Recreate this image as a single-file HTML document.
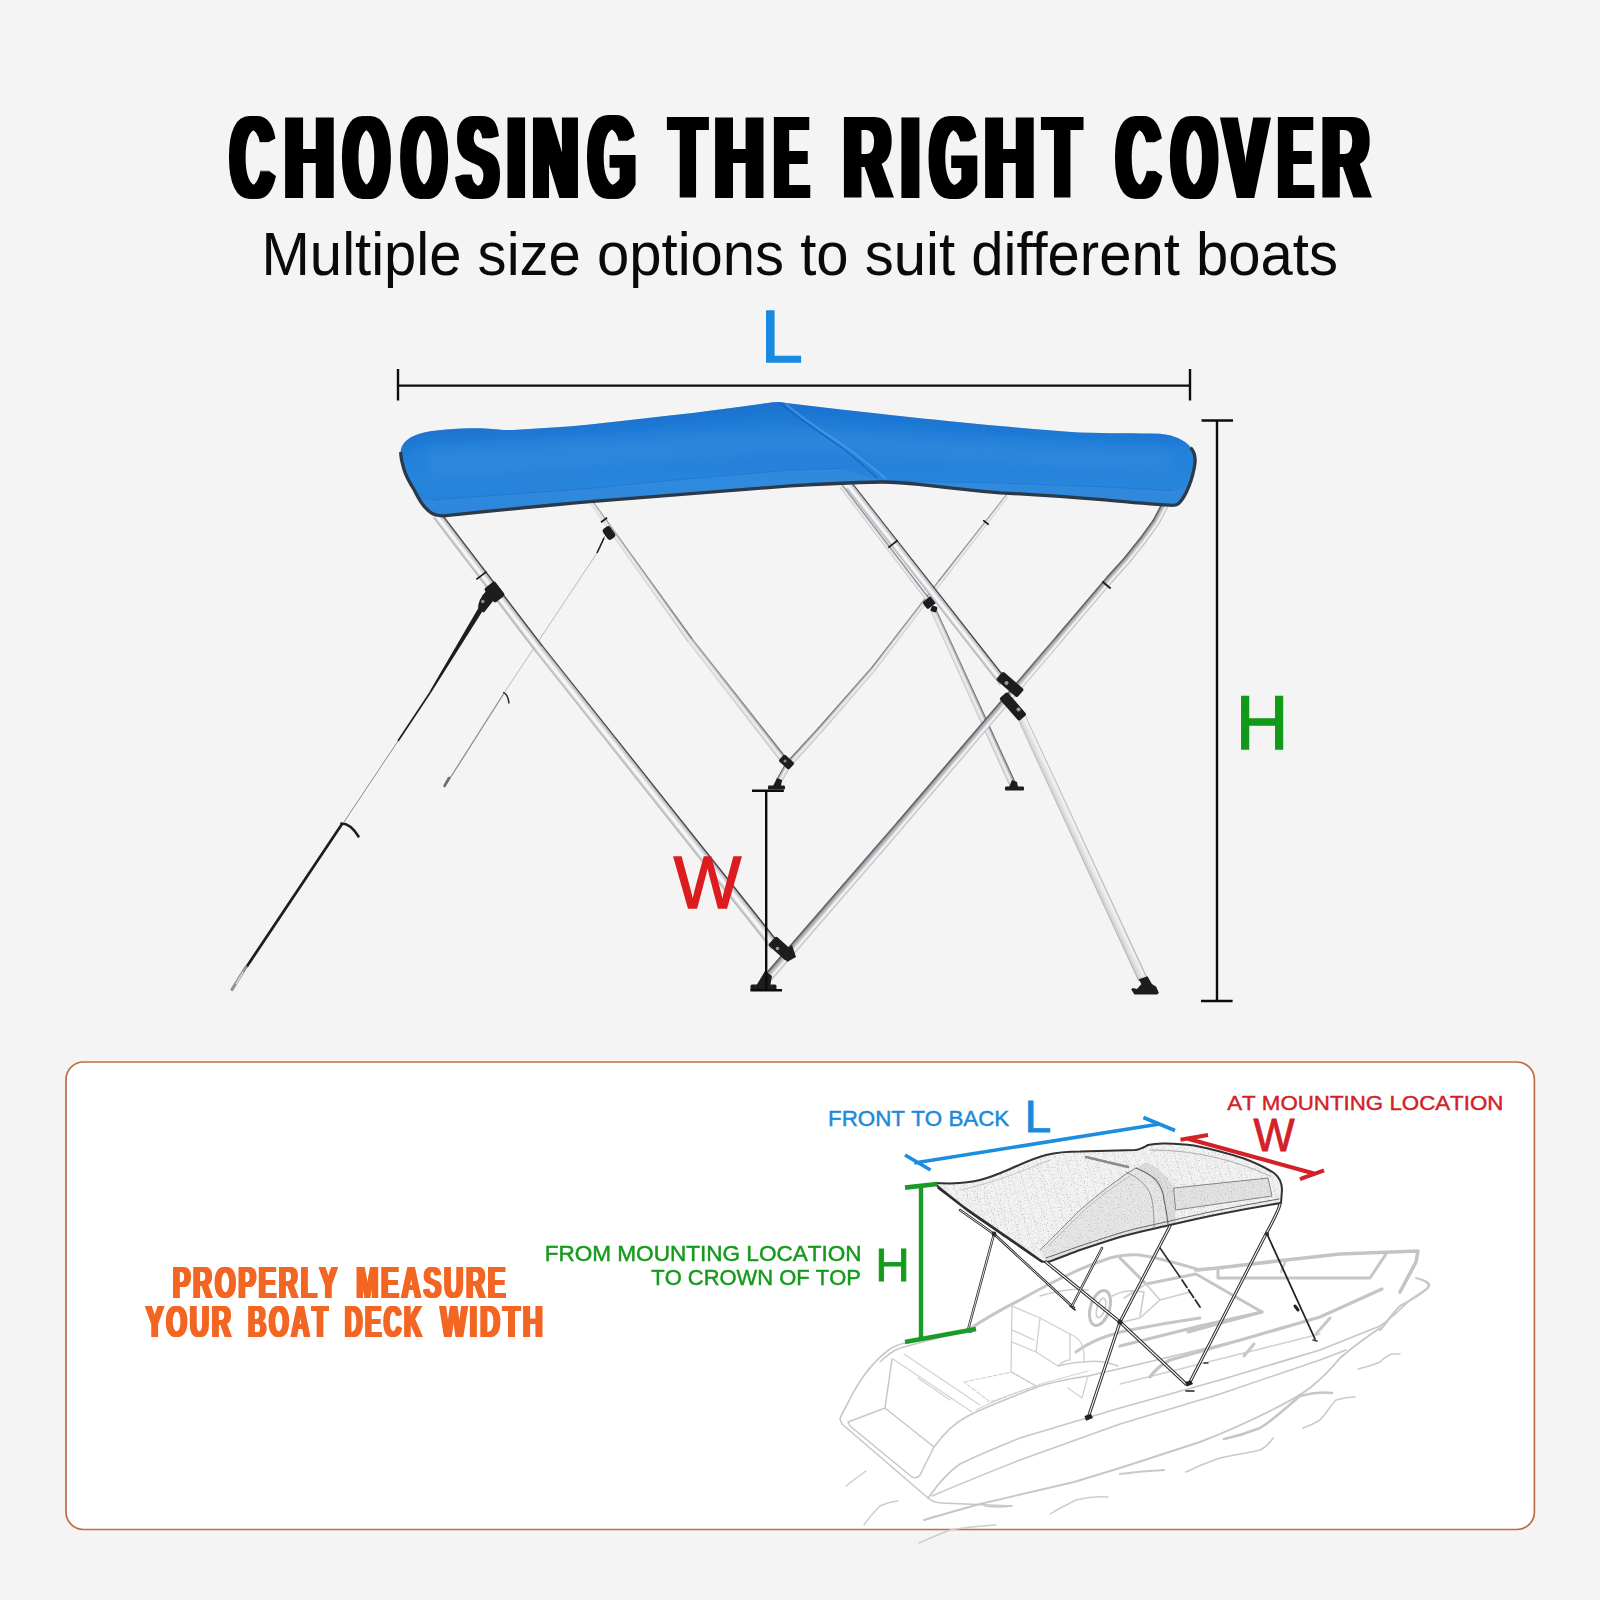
<!DOCTYPE html>
<html>
<head>
<meta charset="utf-8">
<title>Choosing the right cover</title>
<style>
html,body{margin:0;padding:0;background:#f4f4f4;}
body{width:1600px;height:1600px;overflow:hidden;font-family:"Liberation Sans",sans-serif;}
svg{display:block;position:absolute;left:0;top:0;}
text{font-family:"Liberation Sans",sans-serif;}
.b{font-weight:bold;}
.nk{font-kerning:none;}
</style>
</head>
<body>
<svg width="1600" height="1600" viewBox="0 0 1600 1600">
<defs>
<filter id="dil4" filterUnits="userSpaceOnUse" x="200" y="90" width="1200" height="130"><feMorphology operator="dilate" radius="4 0"/></filter>
<!--FRAMEDEFS--><linearGradient id="tube" x1="0" y1="0" x2="0" y2="1">
<stop offset="0" stop-color="#333436"/><stop offset="0.11" stop-color="#4f5154"/><stop offset="0.17" stop-color="#b4b7ba"/><stop offset="0.42" stop-color="#e6e7e9"/><stop offset="0.62" stop-color="#fefefe"/><stop offset="0.8" stop-color="#d2d4d7"/><stop offset="1" stop-color="#a3a6aa"/>
</linearGradient>
<linearGradient id="tubeB" x1="0" y1="0" x2="0" y2="1">
<stop offset="0" stop-color="#3a3b3d"/><stop offset="0.16" stop-color="#77797c"/><stop offset="0.3" stop-color="#a9acaf"/><stop offset="0.52" stop-color="#c9cbce"/><stop offset="0.7" stop-color="#fbfbfb"/><stop offset="0.86" stop-color="#d9dadc"/><stop offset="1" stop-color="#a8abae"/>
</linearGradient>
<linearGradient id="tubeL" x1="0" y1="0" x2="0" y2="1">
<stop offset="0" stop-color="#9da0a4"/><stop offset="0.2" stop-color="#f4f4f5"/><stop offset="0.55" stop-color="#e2e3e5"/><stop offset="0.85" stop-color="#cfd1d4"/><stop offset="1" stop-color="#a0a3a7"/>
</linearGradient>
<linearGradient id="tubeF" x1="0" y1="0" x2="0" y2="1">
<stop offset="0" stop-color="#4a4b4d"/><stop offset="0.22" stop-color="#a9acaf"/><stop offset="0.5" stop-color="#f0f0f1"/><stop offset="0.8" stop-color="#dcdddf"/><stop offset="1" stop-color="#b3b6b9"/>
</linearGradient>
<filter id="blur5" filterUnits="userSpaceOnUse" x="380" y="380" width="840" height="160"><feGaussianBlur stdDeviation="5"/></filter>
<linearGradient id="canG" gradientUnits="userSpaceOnUse" x1="0" y1="400" x2="0" y2="520">
<stop offset="0" stop-color="#1b77d3"/><stop offset="0.3" stop-color="#217ed8"/><stop offset="0.7" stop-color="#2885dc"/><stop offset="1" stop-color="#227dd7"/>
</linearGradient><!--/FRAMEDEFS-->
<filter id="dil1" filterUnits="userSpaceOnUse" x="100" y="1240" width="500" height="120"><feMorphology operator="dilate" radius="1 0"/></filter>
<filter id="pnoise" filterUnits="userSpaceOnUse" x="925" y="1135" width="365" height="135"><feTurbulence type="fractalNoise" baseFrequency="0.7" numOctaves="2" seed="7"/><feColorMatrix values="0 0 0 0 0.4  0 0 0 0 0.4  0 0 0 0 0.4  0 0 0 -2.0 0.92"/></filter>
<!--DEFS-->
</defs>
<rect x="0" y="0" width="1600" height="1600" fill="#f4f4f4"/>

<!-- ============ TITLE ============ -->
<g id="title" fill="#000" filter="url(#dil4)">
<text transform="translate(230.55 198.0) scale(0.5965 1.1773)" font-size="100" class="b">C</text>
<text transform="translate(284.38 198.0) scale(0.6906 1.1773)" font-size="100" class="b">H</text>
<text transform="translate(343.58 198.0) scale(0.5901 1.1773)" font-size="100" class="b">O</text>
<text transform="translate(401.64 198.0) scale(0.5757 1.1773)" font-size="100" class="b">O</text>
<text transform="translate(457.22 198.0) scale(0.6176 1.1773)" font-size="100" class="b">S</text>
<text transform="translate(506.94 198.0) scale(0.6665 1.1773)" font-size="100" class="b">I</text>
<text transform="translate(532.79 198.0) scale(0.6294 1.1773)" font-size="100" class="b">N</text>
<text transform="translate(588.53 198.0) scale(0.6017 1.1773)" font-size="100" class="b">G</text>
<text transform="translate(670.35 198.0) scale(0.5774 1.1773)" font-size="100" class="b">T</text>
<text transform="translate(714.40 198.0) scale(0.6872 1.1773)" font-size="100" class="b">H</text>
<text transform="translate(774.61 198.0) scale(0.5062 1.1773)" font-size="100" class="b">E</text>
<text transform="translate(843.57 198.0) scale(0.6617 1.1773)" font-size="100" class="b">R</text>
<text transform="translate(900.76 198.0) scale(0.6942 1.1773)" font-size="100" class="b">I</text>
<text transform="translate(930.12 198.0) scale(0.6046 1.1773)" font-size="100" class="b">G</text>
<text transform="translate(984.38 198.0) scale(0.6906 1.1773)" font-size="100" class="b">H</text>
<text transform="translate(1044.34 198.0) scale(0.5876 1.1773)" font-size="100" class="b">T</text>
<text transform="translate(1116.53 198.0) scale(0.6026 1.1773)" font-size="100" class="b">C</text>
<text transform="translate(1171.60 198.0) scale(0.5843 1.1773)" font-size="100" class="b">O</text>
<text transform="translate(1223.55 198.0) scale(0.6582 1.1773)" font-size="100" class="b">V</text>
<text transform="translate(1278.61 198.0) scale(0.5062 1.1773)" font-size="100" class="b">E</text>
<text transform="translate(1322.02 198.0) scale(0.6554 1.1773)" font-size="100" class="b">R</text>
</g>

<!-- subtitle -->
<text transform="translate(261.5 274.8) scale(1 1.045)" font-size="58.05" fill="#0a0a0a">Multiple size options to suit different boats</text>

<!-- ============ CANOPY + FRAME ============ -->
<!--FRAME_S-->
<g id="frame">
<polygon points="0,-2.10 169.04,-2.94 169.04,2.94 0,2.10" fill="url(#tubeF)" transform="translate(592.0 503.0) rotate(54.42)"/>
<polygon points="0,-2.94 151.63,-3.70 151.63,3.70 0,2.94" fill="url(#tubeF)" transform="translate(690.0 640.0) rotate(51.99)"/>
<polygon points="0,-2.17 109.62,-1.70 109.62,1.70 0,2.17" fill="url(#tubeF)" transform="translate(940.0 582.0) rotate(-52.08)"/>
<polygon points="0,-2.65 111.51,-2.17 111.51,2.17 0,2.65" fill="url(#tubeF)" transform="translate(872.5 670.0) rotate(-52.51)"/>
<polygon points="0,-3.00 80.33,-2.65 80.33,2.65 0,3.00" fill="url(#tubeF)" transform="translate(820.0 730.0) rotate(-48.81)"/>
<polygon points="0,-3.20 46.61,-3.00 46.61,3.00 0,3.20" fill="url(#tubeF)" transform="translate(789.0 764.0) rotate(-47.64)"/>
<polygon points="0,-2.00 145.41,-2.20 145.41,2.20 0,2.00" fill="url(#tubeF)" transform="translate(841.0 486.0) rotate(52.58)"/>
<polygon points="0,-3.10 193.93,-3.60 193.93,3.60 0,3.10" fill="url(#tubeF)" transform="translate(932.0 607.0) rotate(65.56)"/>
<polygon points="0,-3.10 18.96,-3.10 18.96,3.10 0,3.10" fill="url(#tubeF)" transform="translate(779.0 781.0) rotate(-60.64)"/>
<rect x="-7.0" y="-4.5" width="14" height="9" rx="2" fill="#1d1d1f" transform="translate(786.5 762.0) rotate(222.4)"/>
<circle cx="785" cy="761" r="1.5" fill="#8a8a8a"/>
<path d="M773 786L777 778L782 780L781 786Z" fill="#1d1d1f"/>
<rect x="768" y="785.5" width="17" height="4" rx="1" fill="#1d1d1f"/>
<path d="M1009 787L1012 780L1017 782L1018 787Z" fill="#1d1d1f"/>
<rect x="1005" y="786.5" width="19" height="4" rx="1" fill="#1d1d1f"/>
<rect x="-6.5" y="-4.5" width="13" height="9" rx="2" fill="#1d1d1f" transform="translate(930.0 602.0) rotate(142.6)"/>
<rect x="-3.0" y="-3.0" width="6" height="6" rx="1.5" fill="#1d1d1f" transform="translate(934.0 609.0) rotate(20.0)"/>
<rect x="-0.9" y="-3.8" width="1.8" height="7.5" fill="#1a1a1a" transform="translate(604 520) rotate(54.4)"/>
<rect x="-0.9" y="-3.5" width="1.8" height="7.0" fill="#1a1a1a" transform="translate(986 522.5) rotate(-52.1)"/>
<rect x="-6.5" y="-4.5" width="13" height="9" rx="3" fill="#1d1d1f" transform="translate(609.0 533.0) rotate(54.4)"/>
<path d="M606 534L598 552L603 539Z" fill="#1d1d1f"/>
<path d="M604 538L597 553" stroke="#1d1d1f" stroke-width="1.6" fill="none" />
<path d="M597 553L504 693" stroke="#b9b9b9" stroke-width="1.0" fill="none" />
<path d="M503 692.5q5 1 6 11" stroke="#2a2a2a" stroke-width="1.5" fill="none" />
<path d="M503.5 694L447 783" stroke="#8f8f8f" stroke-width="1.3" fill="none" />
<path d="M449 778l-4.5 8" stroke="#6d6d6d" stroke-width="2.6" fill="none" stroke-linecap="round"/>
<polygon points="0,-4.30 249.55,-4.60 249.55,4.60 0,4.30" fill="url(#tube)" transform="translate(849.5 486.0) rotate(51.93)"/>
<polygon points="0,-4.80 167.91,-4.95 167.91,4.95 0,4.80" fill="url(#tube)" transform="translate(437.0 515.0) rotate(52.65)"/>
<polygon points="0,-4.95 381.04,-5.30 381.04,5.30 0,4.95" fill="url(#tube)" transform="translate(538.5 648.0) rotate(51.56)"/>
<polygon points="0,-4.40 290.39,-4.80 290.39,4.80 0,4.40" fill="url(#tubeL)" transform="translate(1021.0 716.0) rotate(65.17)"/>
<polygon points="0,-3.83 22.07,-3.80 22.07,3.80 0,3.83" fill="url(#tubeB)" transform="translate(1156.0 522.0) rotate(-62.24)"/>
<polygon points="0,-3.86 22.80,-3.83 22.80,3.83 0,3.86" fill="url(#tubeB)" transform="translate(1143.0 540.0) rotate(-54.16)"/>
<polygon points="0,-3.90 26.21,-3.86 26.21,3.86 0,3.90" fill="url(#tubeB)" transform="translate(1127.0 560.0) rotate(-51.34)"/>
<polygon points="0,-3.94 27.51,-3.90 27.51,3.90 0,3.94" fill="url(#tubeB)" transform="translate(1109.0 580.0) rotate(-48.01)"/>
<polygon points="0,-4.05 79.35,-3.94 79.35,3.94 0,4.05" fill="url(#tubeB)" transform="translate(1058.0 640.0) rotate(-49.64)"/>
<polygon points="0,-4.41 243.89,-4.05 243.89,4.05 0,4.41" fill="url(#tubeB)" transform="translate(900.0 825.0) rotate(-49.50)"/>
<polygon points="0,-4.70 202.29,-4.41 202.29,4.41 0,4.70" fill="url(#tubeB)" transform="translate(768.0 977.5) rotate(-49.12)"/>
<rect x="-0.9" y="-5.9" width="1.8" height="11.8" fill="#1a1a1a" transform="translate(893 544) rotate(51.9)"/>
<rect x="-0.9" y="-5.4" width="1.8" height="10.8" fill="#1a1a1a" transform="translate(1106.5 585) rotate(130.4)"/>
<rect x="-0.9" y="-6.4" width="1.8" height="12.8" fill="#1a1a1a" transform="translate(481.5 575.5) rotate(52.7)"/>
<rect x="-9.0" y="-6.8" width="18" height="13.5" rx="2.5" fill="#1d1d1f" transform="translate(494.5 592.0) rotate(52.7)"/>
<path d="M487 590L497 596L484 612.5L478 610.5Q477 600 487 590Z" fill="#1d1d1f"/>
<circle cx="482.8" cy="601.5" r="1.8" fill="#8d8d8d"/>
<rect x="-14.0" y="-5.5" width="28" height="11" rx="2" fill="#1d1d1f" transform="translate(1010.0 684.5) rotate(40.9)"/>
<rect x="-15.0" y="-5.2" width="30" height="10.5" rx="2" fill="#1d1d1f" transform="translate(1013.0 706.5) rotate(48.9)"/>
<circle cx="1006.5" cy="683" r="2" fill="#9a9a9a"/><circle cx="1018.5" cy="709.5" r="2" fill="#9a9a9a"/>
<rect x="-12.0" y="-6.0" width="24" height="12" rx="2" fill="#1d1d1f" transform="translate(781.0 948.5) rotate(41.6)"/>
<path d="M782 951L792 945L796 957L787 962Z" fill="#1d1d1f"/>
<circle cx="777.5" cy="948.5" r="1.8" fill="#9a9a9a"/>
<path d="M756 986L765 971L772 976L770 987Z" fill="#1d1d1f"/>
<rect x="750.5" y="984.5" width="26" height="5.6" rx="1.5" fill="#1d1d1f"/>
<path d="M1138.7 979.3L1147.5 976.2L1151.9 984.1L1156.2 986.7L1158.9 992.9L1157.1 994.6L1134.4 994.6L1131.3 989.4L1132.6 988L1137 989L1141.4 984.1Z" fill="#1d1d1f"/>
<path d="M477.8 609L482.3 611.6L431.2 692.6L429.6 691.6Z" fill="#1d1d1f"/>
<path d="M430.5 692L398 741" stroke="#1d1d1f" stroke-width="1.7" fill="none" />
<path d="M398 741L344 822" stroke="#8a8a8a" stroke-width="1.0" fill="none" />
<path d="M341.5 823.5q9 0 17 13" stroke="#1d1d1f" stroke-width="2.6" fill="none" stroke-linecap="round"/>
<path d="M342 824L246.5 967" stroke="#1d1d1f" stroke-width="2.7" fill="none" />
<path d="M246 967L232 989.5" stroke="#909396" stroke-width="3.2" fill="none" stroke-linecap="round"/>
<path d="M243 972L236 984" stroke="#e8e8e8" stroke-width="1.1" fill="none" />
</g>
<!--FRAME_E-->
<!--CANOPY_S-->
<g id="canopy">
<path d="M400.5 452 C401 443 409 436 424 432.5 C445 428.5 470 428 485 428.5 C497 429.2 503 430.4 513 430 C540 428.5 566 427 590 424.6 C626 420.5 662 416.5 695 412.8 C724 409 750 405.5 773 402.3 Q779 401.4 786 403 C822 407.5 860 411.5 895 415.4 C932 419.5 968 423 1000 426 C1030 428.8 1056 431 1079 432.5 C1110 433.6 1136 433 1160 433.8 C1174 435 1185 440 1191 447.5 C1196 453 1196.5 460 1194.7 468 C1193 477 1190.5 485 1187 492 C1184.5 497.5 1182 501.5 1178.4 504.5 Q1176 506.2 1170 505.8 C1150 504.6 1128 502.6 1105 500.4 C1068 497.5 1034 495.3 1000 493.4 C972 491 945 488 921 485.3 C906 483.3 894 482.4 882 482.4 C852 483 820 484.5 790 486.3 C722 491.5 656 497 590 502 C540 506.5 490 511.5 446 516 Q436 517 430 512.5 C422 506 418 498 414 490 C409 482 405.5 476 403.6 469 C401.5 462 400.3 457 400.5 452Z" fill="url(#canG)"/>
<clipPath id="canClip"><path d="M400.5 452 C401 443 409 436 424 432.5 C445 428.5 470 428 485 428.5 C497 429.2 503 430.4 513 430 C540 428.5 566 427 590 424.6 C626 420.5 662 416.5 695 412.8 C724 409 750 405.5 773 402.3 Q779 401.4 786 403 C822 407.5 860 411.5 895 415.4 C932 419.5 968 423 1000 426 C1030 428.8 1056 431 1079 432.5 C1110 433.6 1136 433 1160 433.8 C1174 435 1185 440 1191 447.5 C1196 453 1196.5 460 1194.7 468 C1193 477 1190.5 485 1187 492 C1184.5 497.5 1182 501.5 1178.4 504.5 Q1176 506.2 1170 505.8 C1150 504.6 1128 502.6 1105 500.4 C1068 497.5 1034 495.3 1000 493.4 C972 491 945 488 921 485.3 C906 483.3 894 482.4 882 482.4 C852 483 820 484.5 790 486.3 C722 491.5 656 497 590 502 C540 506.5 490 511.5 446 516 Q436 517 430 512.5 C422 506 418 498 414 490 C409 482 405.5 476 403.6 469 C401.5 462 400.3 457 400.5 452Z"/></clipPath>
<g clip-path="url(#canClip)">
<g filter="url(#blur5)">
<path d="M430 450 C560 445 700 432 800 428 C900 436 1050 448 1170 452 L1170 470 C1050 468 900 458 800 452 C700 458 560 470 430 476Z" fill="#3c8fe0" opacity="0.35"/>
<path d="M400 426 L600 408 L780 396 L1000 418 L1200 428 L1200 440 L1150 439.5 L1000 431 L785 409 L600 430 L500 436 L420 441 L400 456Z" fill="#1266c6" opacity="0.4"/>
</g>
<path d="M405 500 L432 500 L466 497.5 L590 488.5 L669 480.5 L790 470 L842 468.5 L880 480.5 L1000 483 L1105 487 L1172 490.5 L1200 486 L1200 520 L400 530Z" fill="#3b91e1" opacity="0.42"/>
<path d="M432 500 L466 497.5 L590 488.5 L669 480.5 L790 470 L842 468.5 M880 480.5 L1000 483 L1105 487 L1172 490.5" stroke="#1a6fcb" stroke-width="0.9" fill="none" opacity="0.55"/>
<path d="M779 402 C800 420 820 432 842 448 C858 460 868 470 877 478" stroke="#0f62bd" stroke-width="1.5" fill="none" opacity="0.75"/>
<path d="M786 404 C806 422 828 434 850 450 C866 462 876 470 886 479" stroke="#5aa6e8" stroke-width="2" fill="none" opacity="0.55"/>
</g>
<path d="M400.8 452 C400.6 457 401.8 462 403.9 469 C405.8 476 409.3 482 414.3 490 C418.3 498 422.3 506 430.3 512.3 Q436 516.6 446 515.6 C490 511 540 506 590 501.6 C656 496.6 722 491 790 485.9 C820 484 852 482.6 882 482 C894 482 906 482.9 921 484.6 C945 487.4 972 490.4 1000 492.8 C1034 494.7 1068 496.9 1105 499.8 C1128 502 1150 504 1170 505.2 Q1176 505.6 1178 504 C1181.6 501 1184 497 1186.5 491.7 C1190 484.8 1192.5 476.8 1194.2 468 C1196 460 1195.5 453 1190.6 447.7" stroke="#2c3946" stroke-width="3.3" fill="none" stroke-linejoin="round"/>
</g>
<!--CANOPY_E-->
<!--TOPLBL_S-->
<g stroke="#0c0c0c" stroke-width="2.4" fill="none">
<path d="M398 385.6H1190M398 369V400.5M1190 369V400.5"/>
<path d="M1217 420.5V1001M1201.5 420.5H1233M1201 1001H1232.6"/>
<path d="M766.2 790.7V990.2M752 790.7H783.8M750.4 990.2H782"/>
</g>
<text transform="translate(760.45 361.80) scale(1.0210 1)" font-size="74.64" fill="#188be0" stroke="#188be0" stroke-width="1.4" stroke-linejoin="miter" class="nk">L</text>
<text transform="translate(1235.71 749.30) scale(0.9720 1)" font-size="75.15" fill="#129918" stroke="#129918" stroke-width="1.4" stroke-linejoin="miter" class="nk">H</text>
<text transform="translate(673.69 907.70) scale(0.9623 1)" font-size="74.27" fill="#dc1c1f" stroke="#dc1c1f" stroke-width="1.6" stroke-linejoin="miter" class="nk">W</text>
<!--TOPLBL_E-->

<!-- ============ BOTTOM PANEL ============ -->
<rect x="66" y="1062" width="1468.4" height="467.5" rx="17.5" ry="17.5" fill="#ffffff" stroke="#bd6d44" stroke-width="1.7"/>
<!--BOAT_S-->
<g id="boat">
<path d="M905 1343 Q896 1345 890 1349 C875 1360 862 1376 852 1395 C846 1407 841 1415 840 1419 L842 1424 L928 1498 Q934 1503 942 1503 L1012 1506" stroke="#c7c7c7" stroke-width="1.6" fill="none" stroke-linecap="round" stroke-linejoin="round" />
<path d="M892 1359 L885 1408 L848 1422 M885 1408 L934 1447 M848 1422 L850 1426 L912 1477 Q917 1479 920 1475 L934 1447 Q950 1425 968 1416" stroke="#c7c7c7" stroke-width="1.5" fill="none" stroke-linecap="round" stroke-linejoin="round" />
<path d="M893 1359 L972 1412 M904 1354 L980 1405 M918 1378 L950 1400" stroke="#d2d2d2" stroke-width="1.2" fill="none" stroke-linecap="round" stroke-linejoin="round" />
<path d="M880 1362 Q890 1352 900 1348 L968 1330" stroke="#c7c7c7" stroke-width="1.4" fill="none" stroke-linecap="round" stroke-linejoin="round" />
<path d="M968 1416 C990 1405 1015 1396 1040 1386 C1060 1380 1075 1378 1088 1376 L1140 1364 L1240 1340" stroke="#c7c7c7" stroke-width="1.5" fill="none" stroke-linecap="round" stroke-linejoin="round" />
<path d="M976 1410 C996 1400 1020 1391 1044 1383 L1088 1371" stroke="#d4d4d4" stroke-width="1.1" fill="none" stroke-linecap="round" stroke-linejoin="round" />
<path d="M1120 1384 L1240 1354 L1320 1334" stroke="#cfcfcf" stroke-width="1.3" fill="none" stroke-linecap="round" stroke-linejoin="round" />
<path d="M928 1498 C938 1484 948 1472 960 1464 C980 1454 1000 1446 1020 1438 L1120 1408 L1220 1380 L1320 1350 C1345 1340 1365 1332 1380 1326 C1392 1318 1402 1308 1410 1300 Q1422 1292 1428 1288 Q1430 1284 1424 1281" stroke="#c7c7c7" stroke-width="1.7" fill="none" stroke-linecap="round" stroke-linejoin="round" />
<path d="M932 1496 C960 1484 990 1472 1020 1460 L1120 1424 L1220 1394 L1320 1360 L1346 1350" stroke="#c7c7c7" stroke-width="1.5" fill="none" stroke-linecap="round" stroke-linejoin="round" />
<path d="M924 1520 C944 1514 962 1509 980 1504 L1074 1482 L1120 1468 L1200 1442 C1226 1432 1250 1421 1272 1410 C1286 1403 1299 1396 1310 1388 C1322 1378 1332 1368 1340 1358 C1354 1346 1368 1336 1380 1328" stroke="#c7c7c7" stroke-width="1.9" fill="none" stroke-linecap="round" stroke-linejoin="round" />
<path d="M1196 1270 L1218 1268 L1286 1260 L1340 1254 L1418 1251 L1416 1262 L1400 1292" stroke="#c4c4c4" stroke-width="3.6" fill="none" stroke-linecap="round" stroke-linejoin="round" />
<path d="M1218 1268 V1278 H1370 L1386 1254" stroke="#c6c6c6" stroke-width="3" fill="none" stroke-linecap="round" stroke-linejoin="round" />
<path d="M1286 1260 L1281 1272" stroke="#c9c9c9" stroke-width="2.4" fill="none" stroke-linecap="round" stroke-linejoin="round" />
<path d="M1416 1278 Q1431 1282 1429 1286 Q1426 1292 1400 1306 C1390 1316 1386 1324 1380 1330" stroke="#c9c9c9" stroke-width="2.2" fill="none" stroke-linecap="round" stroke-linejoin="round" />
<path d="M1382 1289 L1320 1317 L1244 1339 L1170 1360 Q1158 1366 1150 1377" stroke="#c5c5c5" stroke-width="3.2" fill="none" stroke-linecap="round" stroke-linejoin="round" />
<path d="M1254 1344 L1244 1356 M1330 1318 L1316 1334" stroke="#c8c8c8" stroke-width="3" fill="none" stroke-linecap="round" stroke-linejoin="round" />
<path d="M968 1330 C986 1318 1004 1308 1020 1300 C1038 1290 1054 1281 1070 1274 C1084 1267 1098 1262 1110 1258 Q1126 1254 1140 1255 C1160 1258 1180 1264 1200 1270" stroke="#c6c6c6" stroke-width="3" fill="none" stroke-linecap="round" stroke-linejoin="round" />
<path d="M1120 1258 L1146 1284 L1196 1274 L1262 1312 L1188 1332" stroke="#c5c5c5" stroke-width="3" fill="none" stroke-linecap="round" stroke-linejoin="round" />
<path d="M1120 1346 L1200 1326 L1262 1312" stroke="#c4c4c4" stroke-width="3.2" fill="none" stroke-linecap="round" stroke-linejoin="round" />
<path d="M1146 1284 L1124 1298 M1146 1284 L1160 1300 L1190 1292 M1160 1300 L1140 1318 L1122 1322" stroke="#cdcdcd" stroke-width="1.6" fill="none" stroke-linecap="round" stroke-linejoin="round" />
<path d="M1076 1352 C1092 1340 1110 1334 1130 1330 C1150 1326 1172 1322 1200 1318" stroke="#c6c6c6" stroke-width="3" fill="none" stroke-linecap="round" stroke-linejoin="round" />
<ellipse cx="1100" cy="1308" rx="9.5" ry="18" transform="rotate(17 1100 1308)" fill="none" stroke="#c2c2c2" stroke-width="3"/>
<ellipse cx="1101" cy="1308" rx="4" ry="10" transform="rotate(17 1101 1308)" fill="none" stroke="#cccccc" stroke-width="1.6"/>
<path d="M1040 1296 C1060 1290 1075 1288 1088 1290 M1112 1296 C1124 1290 1132 1290 1144 1292 L1140 1316" stroke="#cdcdcd" stroke-width="1.6" fill="none" stroke-linecap="round" stroke-linejoin="round" />
<path d="M1012 1306 L1011 1372 L1036 1386 M1012 1306 L1040 1318 L1070 1334 L1070 1360 M1040 1318 L1036 1352 L1012 1342 M1036 1352 L1058 1366 Q1064 1360 1070 1360 M1012 1330 L1034 1340 M1070 1334 Q1082 1338 1084 1352 L1084 1362" stroke="#cfcfcf" stroke-width="1.3" fill="none" stroke-linecap="round" stroke-linejoin="round" />
<path d="M1058 1366 C1066 1364 1074 1362 1084 1362 C1096 1360 1108 1362 1118 1366" stroke="#cbcbcb" stroke-width="1.5" fill="none" stroke-linecap="round" stroke-linejoin="round" />
<path d="M964 1382 L1012 1372 L1036 1386 L990 1402 Z" stroke="#cfcfcf" stroke-width="1.1" fill="none" stroke-linecap="round" stroke-linejoin="round" stroke-dasharray="4 2"/>
<path d="M1088 1376 L1082 1398 M1068 1388 L1082 1398" stroke="#d0d0d0" stroke-width="1.2" fill="none" stroke-linecap="round" stroke-linejoin="round" />
<path d="M846 1486 Q856 1478 866 1471" stroke="#cdcdcd" stroke-width="1.4" fill="none" stroke-linecap="round" stroke-linejoin="round" />
<path d="M864 1525 C870 1516 876 1510 880 1506 Q888 1502 898 1501" stroke="#cdcdcd" stroke-width="1.4" fill="none" stroke-linecap="round" stroke-linejoin="round" />
<path d="M919 1543 C930 1538 940 1534 950 1530 C966 1527 980 1526 996 1525" stroke="#cdcdcd" stroke-width="1.4" fill="none" stroke-linecap="round" stroke-linejoin="round" />
<path d="M1050 1514 C1060 1508 1068 1504 1076 1500 Q1092 1496 1108 1497" stroke="#cdcdcd" stroke-width="1.4" fill="none" stroke-linecap="round" stroke-linejoin="round" />
<path d="M1120 1474 Q1142 1471 1164 1470" stroke="#c9c9c9" stroke-width="2" fill="none" stroke-linecap="round" stroke-linejoin="round" />
<path d="M1186 1472 C1198 1466 1208 1462 1220 1458 C1234 1455 1248 1453 1260 1450 Q1268 1446 1273 1438" stroke="#cacaca" stroke-width="1.6" fill="none" stroke-linecap="round" stroke-linejoin="round" />
<path d="M1224 1439 C1238 1436 1250 1432 1260 1428 C1276 1418 1288 1406 1300 1396 Q1316 1391 1332 1393" stroke="#c6c6c6" stroke-width="2.6" fill="none" stroke-linecap="round" stroke-linejoin="round" />
<path d="M1303 1428 Q1312 1425 1320 1420 C1326 1414 1330 1406 1336 1400 Q1346 1397 1355 1397" stroke="#cbcbcb" stroke-width="1.5" fill="none" stroke-linecap="round" stroke-linejoin="round" />
<path d="M1358 1369 C1366 1367 1374 1365 1380 1362 Q1386 1356 1392 1354 L1400 1354" stroke="#cbcbcb" stroke-width="1.5" fill="none" stroke-linecap="round" stroke-linejoin="round" />
<path d="M924 1520 Q935 1516 945 1514 M1012 1506 Q1000 1508 985 1506" stroke="#c9c9c9" stroke-width="1.6" fill="none" stroke-linecap="round" stroke-linejoin="round" />
</g>
<g id="bimsk">
<path d="M934 1183 L950 1183.5 C962 1183 972 1182 980 1180 C992 1177 1002 1172.5 1010 1169 C1022 1163.5 1034 1158 1046 1155 C1056 1152.5 1066 1151.5 1080 1151.5 L1135 1150 C1140 1149.5 1144 1147 1148 1145 C1154 1143.5 1160 1143.3 1166 1143.5 C1176 1143.8 1186 1144.5 1194 1145.5 C1212 1149 1230 1154 1244 1158.5 C1256 1163 1266 1168 1274 1173 C1279 1177 1282 1183 1282 1190 L1281 1203 C1262 1206 1240 1210 1220 1214 C1200 1218 1185 1221.5 1170 1225 C1150 1229.5 1135 1232.5 1120 1237 C1104 1242 1092 1246 1080 1250 C1068 1254.5 1058 1258.5 1048 1262 Q1044 1263 1040 1260 C1026 1250 1012 1240 1000 1232 C986 1222 972 1213 960 1204 C950 1196 942 1190 934 1183Z" fill="#f3f3f3"/>
<clipPath id="skClip"><path d="M934 1183 L950 1183.5 C962 1183 972 1182 980 1180 C992 1177 1002 1172.5 1010 1169 C1022 1163.5 1034 1158 1046 1155 C1056 1152.5 1066 1151.5 1080 1151.5 L1135 1150 C1140 1149.5 1144 1147 1148 1145 C1154 1143.5 1160 1143.3 1166 1143.5 C1176 1143.8 1186 1144.5 1194 1145.5 C1212 1149 1230 1154 1244 1158.5 C1256 1163 1266 1168 1274 1173 C1279 1177 1282 1183 1282 1190 L1281 1203 C1262 1206 1240 1210 1220 1214 C1200 1218 1185 1221.5 1170 1225 C1150 1229.5 1135 1232.5 1120 1237 C1104 1242 1092 1246 1080 1250 C1068 1254.5 1058 1258.5 1048 1262 Q1044 1263 1040 1260 C1026 1250 1012 1240 1000 1232 C986 1222 972 1213 960 1204 C950 1196 942 1190 934 1183Z"/></clipPath>
<g clip-path="url(#skClip)">
<path d="M1040 1250 C1054 1236 1068 1222 1080 1210 C1096 1196 1112 1184 1126 1174 L1136 1168 C1150 1176 1160 1186 1164 1200 L1168 1226 L1048 1264Z" fill="#e6e6e6"/>
<path d="M1174 1188 L1268 1178 L1272 1196 L1176 1210Z" fill="#e2e2e2"/>
<path d="M1136 1168 C1150 1176 1160 1186 1164 1200 L1168 1226 L1176 1224 L1174 1188 C1168 1176 1156 1166 1146 1162Z" fill="#dcdcdc"/>
<path d="M930 1140 l40 130" stroke="#e2e2e2" stroke-width="0.7" fill="none"/>
<path d="M940 1140 l40 130" stroke="#e2e2e2" stroke-width="0.7" fill="none"/>
<path d="M950 1140 l40 130" stroke="#e2e2e2" stroke-width="0.7" fill="none"/>
<path d="M960 1140 l40 130" stroke="#e2e2e2" stroke-width="0.7" fill="none"/>
<path d="M970 1140 l40 130" stroke="#e2e2e2" stroke-width="0.7" fill="none"/>
<path d="M980 1140 l40 130" stroke="#e2e2e2" stroke-width="0.7" fill="none"/>
<path d="M990 1140 l40 130" stroke="#e2e2e2" stroke-width="0.7" fill="none"/>
<path d="M1000 1140 l40 130" stroke="#e2e2e2" stroke-width="0.7" fill="none"/>
<path d="M1010 1140 l40 130" stroke="#e2e2e2" stroke-width="0.7" fill="none"/>
<path d="M1020 1140 l40 130" stroke="#e2e2e2" stroke-width="0.7" fill="none"/>
<path d="M1030 1140 l40 130" stroke="#e2e2e2" stroke-width="0.7" fill="none"/>
<path d="M1040 1140 l40 130" stroke="#e2e2e2" stroke-width="0.7" fill="none"/>
<path d="M1050 1140 l40 130" stroke="#e2e2e2" stroke-width="0.7" fill="none"/>
<path d="M1060 1140 l40 130" stroke="#e2e2e2" stroke-width="0.7" fill="none"/>
<path d="M1070 1140 l40 130" stroke="#e2e2e2" stroke-width="0.7" fill="none"/>
<path d="M1080 1140 l40 130" stroke="#e2e2e2" stroke-width="0.7" fill="none"/>
<path d="M1090 1140 l40 130" stroke="#e2e2e2" stroke-width="0.7" fill="none"/>
<path d="M1100 1140 l40 130" stroke="#e2e2e2" stroke-width="0.7" fill="none"/>
<path d="M1110 1140 l40 130" stroke="#e2e2e2" stroke-width="0.7" fill="none"/>
<path d="M1120 1140 l40 130" stroke="#e2e2e2" stroke-width="0.7" fill="none"/>
<path d="M1130 1140 l40 130" stroke="#e2e2e2" stroke-width="0.7" fill="none"/>
<path d="M1140 1140 l40 130" stroke="#e2e2e2" stroke-width="0.7" fill="none"/>
<path d="M1150 1140 l40 130" stroke="#e2e2e2" stroke-width="0.7" fill="none"/>
<path d="M1160 1140 l40 130" stroke="#e2e2e2" stroke-width="0.7" fill="none"/>
<path d="M1170 1140 l40 130" stroke="#e2e2e2" stroke-width="0.7" fill="none"/>
<path d="M1180 1140 l40 130" stroke="#e2e2e2" stroke-width="0.7" fill="none"/>
<path d="M1190 1140 l40 130" stroke="#e2e2e2" stroke-width="0.7" fill="none"/>
<path d="M1200 1140 l40 130" stroke="#e2e2e2" stroke-width="0.7" fill="none"/>
<path d="M1210 1140 l40 130" stroke="#e2e2e2" stroke-width="0.7" fill="none"/>
<path d="M1220 1140 l40 130" stroke="#e2e2e2" stroke-width="0.7" fill="none"/>
<path d="M1230 1140 l40 130" stroke="#e2e2e2" stroke-width="0.7" fill="none"/>
<path d="M1240 1140 l40 130" stroke="#e2e2e2" stroke-width="0.7" fill="none"/>
<path d="M1250 1140 l40 130" stroke="#e2e2e2" stroke-width="0.7" fill="none"/>
<path d="M1260 1140 l40 130" stroke="#e2e2e2" stroke-width="0.7" fill="none"/>
<path d="M1270 1140 l40 130" stroke="#e2e2e2" stroke-width="0.7" fill="none"/>
<path d="M1280 1140 l40 130" stroke="#e2e2e2" stroke-width="0.7" fill="none"/>
<path d="M1290 1140 l40 130" stroke="#e2e2e2" stroke-width="0.7" fill="none"/>
<path d="M1300 1140 l40 130" stroke="#e2e2e2" stroke-width="0.7" fill="none"/>
<path d="M1310 1140 l40 130" stroke="#e2e2e2" stroke-width="0.7" fill="none"/>
<path d="M1320 1140 l40 130" stroke="#e2e2e2" stroke-width="0.7" fill="none"/>
<rect x="925" y="1135" width="365" height="135" filter="url(#pnoise)"/>
</g>
<path d="M934 1183 L950 1183.5 C962 1183 972 1182 980 1180 C992 1177 1002 1172.5 1010 1169 C1022 1163.5 1034 1158 1046 1155 C1056 1152.5 1066 1151.5 1080 1151.5 L1135 1150 C1140 1149.5 1144 1147 1148 1145 C1154 1143.5 1160 1143.3 1166 1143.5 C1176 1143.8 1186 1144.5 1194 1145.5 C1212 1149 1230 1154 1244 1158.5 C1256 1163 1266 1168 1274 1173 C1279 1177 1282 1183 1282 1190 L1281 1203 C1262 1206 1240 1210 1220 1214 C1200 1218 1185 1221.5 1170 1225 C1150 1229.5 1135 1232.5 1120 1237 C1104 1242 1092 1246 1080 1250 C1068 1254.5 1058 1258.5 1048 1262 Q1044 1263 1040 1260 C1026 1250 1012 1240 1000 1232 C986 1222 972 1213 960 1204 C950 1196 942 1190 934 1183Z" stroke="#333333" stroke-width="2.0" fill="none" stroke-linecap="round" stroke-linejoin="round" />
<path d="M1046 1258 C1058 1254 1068 1250 1080 1246 C1092 1242 1104 1238 1120 1233 C1135 1228.5 1150 1225.5 1170 1221 C1185 1217.5 1200 1214 1220 1210 C1240 1206 1262 1202 1279 1199" stroke="#555" stroke-width="0.9" fill="none" stroke-linecap="round" stroke-linejoin="round" />
<path d="M938 1188 C946 1194 954 1200 964 1208 C976 1217 990 1226 1004 1236 C1016 1244 1030 1254 1042 1262" stroke="#2e2e2e" stroke-width="1.6" fill="none" stroke-linecap="round" stroke-linejoin="round" />
<path d="M1040 1250 C1054 1236 1068 1222 1080 1210 C1096 1196 1112 1184 1126 1174 L1136 1168" stroke="#8a8a8a" stroke-width="1.0" fill="none" stroke-linecap="round" stroke-linejoin="round" />
<path d="M1048 1246 C1062 1232 1076 1218 1088 1207 C1102 1195 1116 1185 1130 1176" stroke="#b0b0b0" stroke-width="0.8" fill="none" stroke-linecap="round" stroke-linejoin="round" />
<path d="M1136 1168 C1146 1172 1152 1176 1156 1180 C1162 1188 1164 1196 1164 1200 C1166 1208 1167 1216 1168 1224" stroke="#666" stroke-width="1.1" fill="none" stroke-linecap="round" stroke-linejoin="round" />
<path d="M1126 1172 C1140 1178 1150 1188 1152 1200 C1154 1212 1154 1220 1154 1228" stroke="#8a8a8a" stroke-width="0.9" fill="none" stroke-linecap="round" stroke-linejoin="round" />
<path d="M1174 1188 L1268 1178 L1272 1196 L1176 1210Z" stroke="#7a7a7a" stroke-width="0.9" fill="none" stroke-linecap="round" stroke-linejoin="round" />
<path d="M1086 1157 L1128 1167" stroke="#8a8a8a" stroke-width="2.6" fill="none" stroke-linecap="round" stroke-linejoin="round" stroke-dasharray="1.3 1.2" stroke-linecap="butt"/>
<path d="M1150 1150 C1190 1150 1230 1158 1270 1176" stroke="#9a9a9a" stroke-width="0.8" fill="none" stroke-linecap="round" stroke-linejoin="round" />
<path d="M960 1190 C990 1184 1020 1172 1050 1160" stroke="#b5b5b5" stroke-width="0.7" fill="none" stroke-linecap="round" stroke-linejoin="round" />
<path d="M1046 1262 L1120 1322 L1186 1384" stroke="#2b2b2b" stroke-width="3.3" fill="none" stroke-linecap="round" stroke-linejoin="round" />
<path d="M1046 1262 L1120 1322 L1186 1384" stroke="#f4f4f4" stroke-width="1.188" fill="none" stroke-linecap="round" stroke-linejoin="round" />
<path d="M960 1210 L994 1234 L1074 1308" stroke="#2b2b2b" stroke-width="2.5" fill="none" stroke-linecap="round" stroke-linejoin="round" />
<path d="M960 1210 L994 1234 L1074 1308" stroke="#f4f4f4" stroke-width="0.8999999999999999" fill="none" stroke-linecap="round" stroke-linejoin="round" />
<path d="M994 1234 L968 1330" stroke="#2b2b2b" stroke-width="2.5" fill="none" stroke-linecap="round" stroke-linejoin="round" />
<path d="M994 1234 L968 1330" stroke="#f4f4f4" stroke-width="0.8999999999999999" fill="none" stroke-linecap="round" stroke-linejoin="round" />
<path d="M1102 1248 L1072 1306" stroke="#2b2b2b" stroke-width="2.5" fill="none" stroke-linecap="round" stroke-linejoin="round" />
<path d="M1102 1248 L1072 1306" stroke="#f4f4f4" stroke-width="0.8999999999999999" fill="none" stroke-linecap="round" stroke-linejoin="round" />
<path d="M1170 1226 L1120 1322 L1088 1418" stroke="#2b2b2b" stroke-width="3.1" fill="none" stroke-linecap="round" stroke-linejoin="round" />
<path d="M1170 1226 L1120 1322 L1088 1418" stroke="#f4f4f4" stroke-width="1.1159999999999999" fill="none" stroke-linecap="round" stroke-linejoin="round" />
<path d="M1280 1204 Q1279 1210 1266 1234 L1190 1382" stroke="#2b2b2b" stroke-width="3.1" fill="none" stroke-linecap="round" stroke-linejoin="round" />
<path d="M1280 1204 Q1279 1210 1266 1234 L1190 1382" stroke="#f4f4f4" stroke-width="1.1159999999999999" fill="none" stroke-linecap="round" stroke-linejoin="round" />
<path d="M1160 1248 L1180 1277" stroke="#2b2b2b" stroke-width="1.6" fill="none" stroke-linecap="round" stroke-linejoin="round" />
<path d="M1182 1280 L1200 1307" stroke="#2b2b2b" stroke-width="1.8" fill="none" stroke-linecap="round" stroke-linejoin="round" stroke-dasharray="9 3"/>
<path d="M1267 1234 L1315 1339" stroke="#222" stroke-width="1.8" fill="none" stroke-linecap="round" stroke-linejoin="round" />
<path d="M1295 1306 l3 4" stroke="#222" stroke-width="3" fill="none" stroke-linecap="round" stroke-linejoin="round" />
<circle cx="994" cy="1234" r="2.4" fill="#2b2b2b"/><circle cx="1120" cy="1322" r="2.6" fill="#2b2b2b"/><circle cx="1267" cy="1234" r="2" fill="#2b2b2b"/>
<path d="M1084.5 1416 l6.5 -2.2 l2 4.2 l-7 2.8z" fill="#222"/><path d="M1185 1382 l6 -1.6 l2 3.6 l-6 2.4z" fill="#222"/>
<path d="M1186 1391 h8 M1070 1306 l5 4 M966 1331 l5 1" stroke="#222" stroke-width="1.6" fill="none" stroke-linecap="round" stroke-linejoin="round" />
<path d="M1204 1363 h4 M1313 1340 l4 1" stroke="#333" stroke-width="1.4" fill="none" stroke-linecap="round" stroke-linejoin="round" />
</g>
<path d="M921 1187V1341" stroke="#1a9a28" stroke-width="4.4" fill="none"/>
<path d="M905 1187.6L937 1184M905 1342L976 1329" stroke="#1a9a28" stroke-width="4.6" fill="none"/>
<path d="M914.2 1163L1159.6 1124M905 1155L930.5 1170M1143.4 1117.5L1175 1130.5" stroke="#1c8ddf" stroke-width="3.6" fill="none"/>
<path d="M1186 1138.2L1314 1173.6M1180.5 1139.8L1208 1135M1300 1179.2L1324 1170.4" stroke="#d42027" stroke-width="4.1" fill="none"/>
<!--BOAT_E-->
<!--PTEXT_S-->
<g fill="#f26522" filter="url(#dil1)" transform="translate(-0.5 0)">
<text transform="translate(172.73 1298.2) scale(0.2653 0.4506)" font-size="100" letter-spacing="10" class="b nk">PROPERLY</text>
<text transform="translate(356.21 1298.2) scale(0.2670 0.4506)" font-size="100" letter-spacing="10" class="b nk">MEASURE</text>
<text transform="translate(145.84 1337.3) scale(0.2675 0.4506)" font-size="100" letter-spacing="10" class="b nk">YOUR</text>
<text transform="translate(248.00 1337.3) scale(0.2543 0.4506)" font-size="100" letter-spacing="10" class="b nk">BOAT</text>
<text transform="translate(344.86 1337.3) scale(0.2453 0.4506)" font-size="100" letter-spacing="10" class="b nk">DECK</text>
<text transform="translate(440.47 1337.3) scale(0.2785 0.4506)" font-size="100" letter-spacing="10" class="b nk">WIDTH</text>
</g>
<g fill="#f26522" filter="url(#dil1)" transform="translate(0.5 0)">
<text transform="translate(172.73 1298.2) scale(0.2653 0.4506)" font-size="100" letter-spacing="10" class="b nk">PROPERLY</text>
<text transform="translate(356.21 1298.2) scale(0.2670 0.4506)" font-size="100" letter-spacing="10" class="b nk">MEASURE</text>
<text transform="translate(145.84 1337.3) scale(0.2675 0.4506)" font-size="100" letter-spacing="10" class="b nk">YOUR</text>
<text transform="translate(248.00 1337.3) scale(0.2543 0.4506)" font-size="100" letter-spacing="10" class="b nk">BOAT</text>
<text transform="translate(344.86 1337.3) scale(0.2453 0.4506)" font-size="100" letter-spacing="10" class="b nk">DECK</text>
<text transform="translate(440.47 1337.3) scale(0.2785 0.4506)" font-size="100" letter-spacing="10" class="b nk">WIDTH</text>
</g>
<text transform="translate(544.68 1261.18) scale(1.0518 1)" font-size="21.44" fill="#149a1c" stroke="#149a1c" stroke-width="0.45" stroke-linejoin="miter" class="nk">FROM MOUNTING LOCATION</text>
<text transform="translate(651.23 1284.98) scale(1.0237 1)" font-size="21.44" fill="#149a1c" stroke="#149a1c" stroke-width="0.45" stroke-linejoin="miter" class="nk">TO CROWN OF TOP</text>
<text transform="translate(827.99 1126.28) scale(1.0571 1)" font-size="21.15" fill="#1c8adb" stroke="#1c8adb" stroke-width="0.45" stroke-linejoin="miter" class="nk">FRONT TO BACK</text>
<text transform="translate(1227.18 1110.18) scale(1.0550 1)" font-size="21.15" fill="#d42027" stroke="#d42027" stroke-width="0.45" stroke-linejoin="miter" class="nk">AT MOUNTING LOCATION</text>
<text transform="translate(1024.46 1131.60) scale(1.0706 1)" font-size="44.91" fill="#1c8adb" stroke="#1c8adb" stroke-width="0.8" stroke-linejoin="miter" class="nk">L</text>
<text transform="translate(1253.56 1150.95) scale(0.9460 1)" font-size="46.08" fill="#d42027" stroke="#d42027" stroke-width="0.9" stroke-linejoin="miter" class="nk">W</text>
<text transform="translate(875.23 1280.90) scale(1.0374 1)" font-size="46.08" fill="#149a1c" stroke="#149a1c" stroke-width="0.8" stroke-linejoin="miter" class="nk">H</text>
<!--PTEXT_E-->
</svg>
</body>
</html>
